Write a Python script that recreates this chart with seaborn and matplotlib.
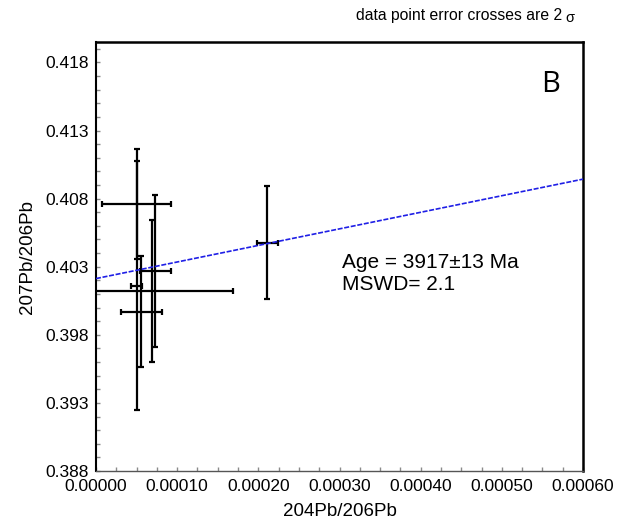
import numpy as np
import pandas as pd
import matplotlib
matplotlib.use("Agg")
import matplotlib.pyplot as plt
from matplotlib.ticker import MultipleLocator, FormatStrFormatter
import seaborn as sns

# ---- data ----
x_vals = [5.01e-5, 4.99e-5, 5.60e-5, 6.86e-5, 7.27e-5, 2.111e-4]
x_err = [4.22e-5, 0.68e-5, 2.50e-5, 9.98e-5, 1.91e-5, 1.33e-5]
y_vals = [0.40761, 0.40160, 0.39971, 0.40121, 0.40266, 0.40476]
y_err = [0.00407, 0.00913, 0.00405, 0.00519, 0.00557, 0.00414]

line_x = [0.0, 0.0006]
line_y = [0.40213, 0.40943]

x_ticks = [0.0, 0.0001, 0.0002, 0.0003, 0.0004, 0.0005, 0.0006]
y_ticks = [0.388, 0.393, 0.398, 0.403, 0.408, 0.413, 0.418]

age_text = "Age = 3917\u00b113 Ma"
mswd_text = "MSWD= 2.1"
panel_label = "B"
note_text = "data point error crosses are 2"
sigma_text = "\u03c3"
x_label = "204Pb/206Pb"
y_label = "207Pb/206Pb"

sns.set_style("white")
plt.rcParams['font.family'] = ['Liberation Sans', 'DejaVu Sans']
plt.rcParams['text.color'] = 'black'
plt.rcParams['axes.labelcolor'] = 'black'
plt.rcParams['xtick.labelcolor'] = 'black'
plt.rcParams['ytick.labelcolor'] = 'black'

df = pd.DataFrame({"x": x_vals, "y": y_vals, "xerr": x_err, "yerr": y_err})
line_df = pd.DataFrame({"x": line_x, "y": line_y})

fig = plt.figure(figsize=(6.27, 5.28), dpi=100)
ax = fig.add_axes([96/627, 1-471/528, (583-96)/627, (471-42)/528])

sns.lineplot(data=line_df, x="x", y="y", ax=ax, color="#1f1fe6", lw=1.2,
             linestyle=(0, (3, 1)), zorder=3)
ax.errorbar(df["x"], df["y"], xerr=df["xerr"], yerr=df["yerr"], fmt="none",
            ecolor="black", elinewidth=1.6, capsize=2.2, capthick=1.6, zorder=2)

ax.set_xlim(0, 0.0006)
ax.set_ylim(0.388, 0.4195)
ax.set_xticks(x_ticks)
ax.set_yticks(y_ticks)
ax.xaxis.set_minor_locator(MultipleLocator(0.000025))
ax.yaxis.set_minor_locator(MultipleLocator(0.001))
ax.xaxis.set_major_formatter(FormatStrFormatter("%.5f"))
ax.yaxis.set_major_formatter(FormatStrFormatter("%.3f"))
ax.tick_params(which="both", direction="in", color="#8a8a8a", width=1,
               length=3, labelsize=12.5, pad=5, labelcolor="black",
               bottom=True, left=True, top=False, right=False)
ax.tick_params(axis="x", pad=6)

for side in ["top", "right"]:
    ax.spines[side].set_color("black")
    ax.spines[side].set_linewidth(1.8)
ax.spines["left"].set_color("black")
ax.spines["left"].set_linewidth(1.5)
ax.spines["bottom"].set_color("#555555")
ax.spines["bottom"].set_linewidth(1.0)

ax.set_xlabel(x_label, fontsize=13.5, labelpad=6, color="black")
ax.set_ylabel(y_label, fontsize=13.5, labelpad=7, color="black")

ax.text(0.915, 0.9, panel_label, transform=ax.transAxes, fontsize=21,
        family=["Open Sans", "DejaVu Sans"], ha="left", va="center", color="black")
fig.text(342/627, 1-268/528, age_text, fontsize=15, ha="left", va="baseline")
fig.text(342/627, 1-290/528, mswd_text, fontsize=15, ha="left", va="baseline")
fig.text(562/627, 1-20/528, note_text, fontsize=11.3, ha="right", va="baseline")
fig.text(565/627, 1-22/528, sigma_text, fontsize=10.5, ha="left", va="baseline")

fig.savefig("out.png", dpi=100)
